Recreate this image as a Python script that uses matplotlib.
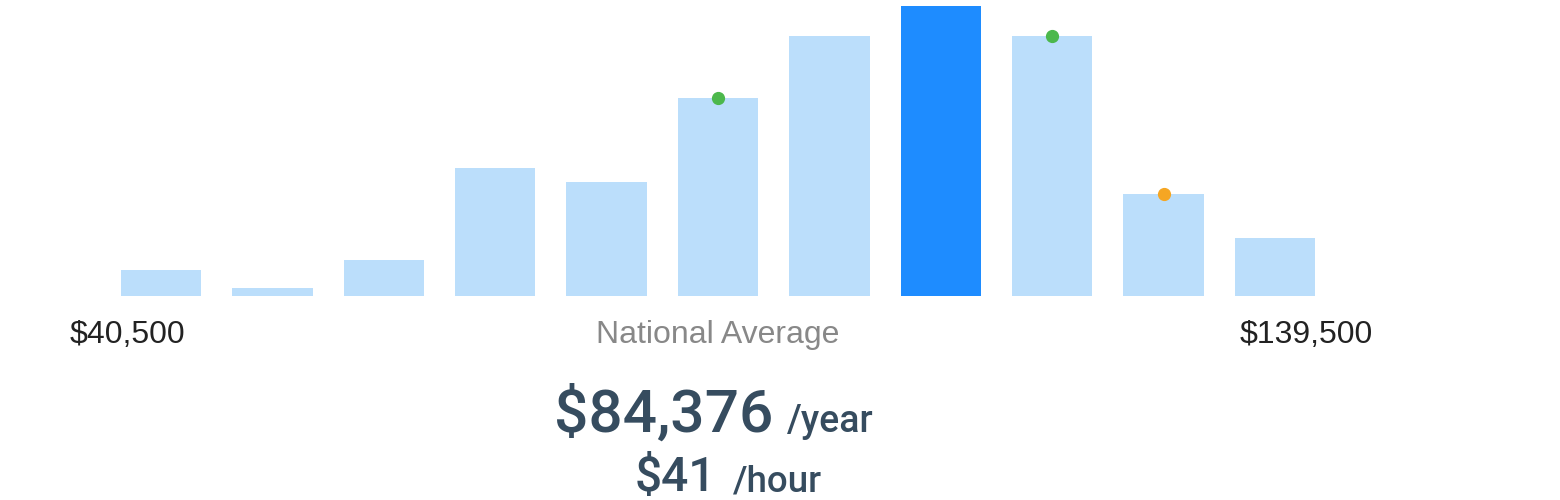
import matplotlib.pyplot as plt

# salary distribution bins (relative heights)
heights = [26, 8, 36, 128, 114, 198, 260, 290, 260, 102, 58]
highlight = 7
dot_bins = [5, 8, 9]
dot_colors = ['#4cb84c', '#4cb84c', '#f5a623']

low_label = '$40,500'
high_label = '$139,500'
avg_label = 'National Average'
year_value = '$84,376'
hour_value = '$41'

plt.rcParams['font.family'] = ['Liberation Sans', 'DejaVu Sans']

fig = plt.figure(figsize=(15.6, 5), dpi=100)
ax = fig.add_axes([0, 204 / 500, 1, 296 / 500])

xs = list(range(len(heights)))
colors = ['#1e8cff' if i == highlight else '#bbdefb' for i in xs]
ax.bar(xs, heights, width=0.72, color=colors)
for b, c in zip(dot_bins, dot_colors):
    ax.plot(b, heights[b], 'o', color=c, markersize=8.5, zorder=3)

step = 111.4
ax.set_xlim(-161 / step, (1560 - 161) / step)
ax.set_ylim(0, 296)
ax.axis('off')

W, H = 1560, 500
fig.text(70 / W, 1 - 343 / H, low_label, fontsize=23, color='#222222', ha='left', va='baseline')
fig.text(1240 / W, 1 - 343 / H, high_label, fontsize=23, color='#222222', ha='left', va='baseline')
fig.text(718 / W, 1 - 343 / H, avg_label, fontsize=23, color='#888888', ha='center', va='baseline')

navy = '#364c5f'
big = dict(color=navy, ha='left', va='baseline', family=['Roboto', 'DejaVu Sans'], fontweight='medium')
fig.text(554 / W, 1 - 432 / H, year_value, fontsize=43.5, **big)
fig.text(787 / W, 1 - 432 / H, '/year', fontsize=27, **big)
fig.text(635 / W, 1 - 491 / H, hour_value, fontsize=34.5, **big)
fig.text(733 / W, 1 - 491 / H, '/hour', fontsize=26.5, **big)

fig.savefig('out.png', dpi=100)
